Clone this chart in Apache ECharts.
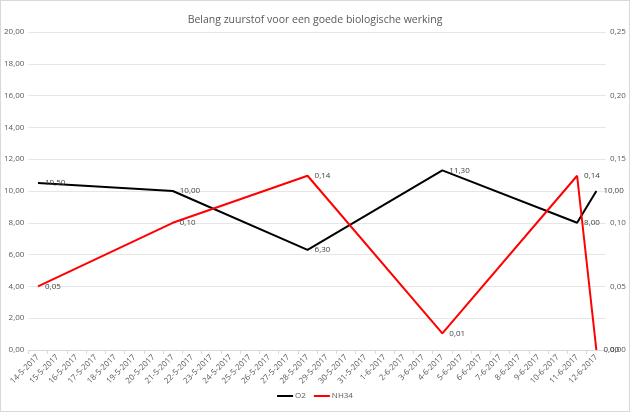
<!DOCTYPE html>
<html>
<head>
<meta charset="utf-8">
<script src="https://cdn.jsdelivr.net/npm/echarts@6/dist/echarts.min.js"></script>
<style>
html,body{margin:0;padding:0;background:#fff;}
#c{width:630px;height:412px;box-sizing:border-box;border:1px solid #d9d9d9;}
</style>
</head>
<body>
<div id="c"></div>
<script>
const titleText = 'Belang zuurstof voor een goede biologische werking';
const dates = ['14-5-2017','15-5-2017','16-5-2017','17-5-2017','18-5-2017','19-5-2017','20-5-2017','21-5-2017','22-5-2017','23-5-2017','24-5-2017','25-5-2017','26-5-2017','27-5-2017','28-5-2017','29-5-2017','30-5-2017','31-5-2017','1-6-2017','2-6-2017','3-6-2017','4-6-2017','5-6-2017','6-6-2017','7-6-2017','8-6-2017','9-6-2017','10-6-2017','11-6-2017','12-6-2017'];
const o2Dates = ['14-5-2017','21-5-2017','28-5-2017','4-6-2017','11-6-2017','12-6-2017'];
const o2Values = [10.5, 10.0, 6.3, 11.3, 8.0, 10.0];
const nh34Dates = ['14-5-2017','21-5-2017','28-5-2017','4-6-2017','11-6-2017','12-6-2017'];
const nh34Values = [0.05, 0.10, 0.137, 0.013, 0.137, 0.0];
const seriesNames = ['O2', 'NH34'];

function spread(ds, vs) {
  return dates.map(d => { const i = ds.indexOf(d); return i >= 0 ? vs[i] : null; });
}
const fmt = v => Number(v).toFixed(2).replace('.', ',');
const FONT = 'Open Sans';
const chart = echarts.init(document.getElementById('c'));
chart.setOption({
  animation: false,
  title: {text: titleText, left: 'center', top: 9,
    textStyle: {fontFamily: FONT, fontSize: 10.5, fontWeight: 'normal', color: '#595959'}},
  legend: {bottom: 6, left: 'center', itemWidth: 16, itemHeight: 2, itemGap: 8,
    icon: 'rect',
    textStyle: {fontFamily: FONT, fontSize: 8, color: '#595959', padding: [0,0,0,-3]},
    data: seriesNames},
  grid: {left: 26, right: 23, top: 31, bottom: 61},
  xAxis: {type: 'category', data: dates, boundaryGap: true,
    axisLine: {lineStyle: {color: '#d9d9d9'}},
    axisTick: {show: true, length: 4, lineStyle: {color: '#d9d9d9'}},
    axisLabel: {rotate: 45, interval: 0, fontFamily: FONT, fontSize: 8, color: '#595959', margin: 6}},
  yAxis: [
    {type: 'value', min: 0, max: 20, interval: 2,
      axisLine: {show: false}, axisTick: {show: false},
      splitLine: {lineStyle: {color: '#e6e6e6'}},
      axisLabel: {formatter: fmt, fontFamily: FONT, fontSize: 8, color: '#595959', margin: 4}},
    {type: 'value', min: 0, max: 0.25, interval: 0.05,
      axisLine: {show: false}, axisTick: {show: false}, splitLine: {show: false},
      axisLabel: {formatter: fmt, fontFamily: FONT, fontSize: 8, color: '#595959', margin: 4}}
  ],
  series: [
    {name: seriesNames[0], type: 'line', yAxisIndex: 0, data: spread(o2Dates, o2Values),
      connectNulls: true, showSymbol: true, symbol: 'circle', symbolSize: 0.01,
      lineStyle: {color: '#000', width: 2}, itemStyle: {color: '#000'},
      label: {show: true, position: 'right', distance: 7, formatter: p => fmt(p.value),
        fontFamily: FONT, fontSize: 8, color: '#404040'}},
    {name: seriesNames[1], type: 'line', yAxisIndex: 1, data: spread(nh34Dates, nh34Values),
      connectNulls: true, showSymbol: true, symbol: 'circle', symbolSize: 0.01,
      lineStyle: {color: '#ff0000', width: 2}, itemStyle: {color: '#ff0000'},
      label: {show: true, position: 'right', distance: 7, formatter: p => fmt(p.value),
        fontFamily: FONT, fontSize: 8, color: '#404040'}}
  ]
});
</script>
</body>
</html>
